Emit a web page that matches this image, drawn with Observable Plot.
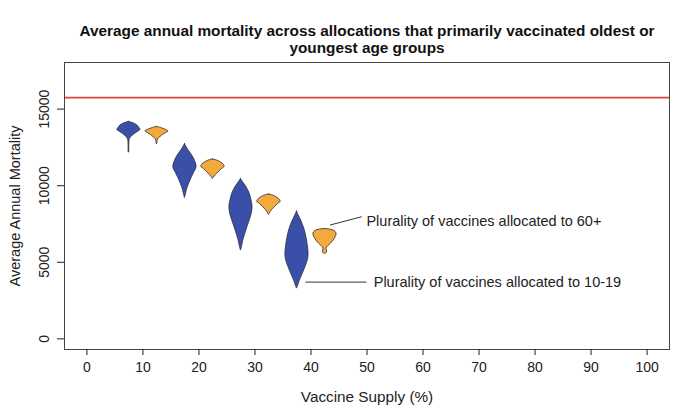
<!DOCTYPE html>
<html>
<head>
<meta charset="utf-8">
<script src="https://cdn.jsdelivr.net/npm/d3@7"></script>
<script src="https://cdn.jsdelivr.net/npm/@observablehq/plot@0.6"></script>
<style>
  body { margin: 0; background: #fff; }
  #chart { width: 700px; height: 417px; }
</style>
</head>
<body>
<div id="chart"></div>
<script>
// ---- Data ----
const titleText = "Average annual mortality across allocations that primarily vaccinated oldest or\nyoungest age groups";
const xLabel = "Vaccine Supply (%)";
const yLabel = "Average Annual Mortality";
const xTicks = [0, 10, 20, 30, 40, 50, 60, 70, 80, 90, 100];
const yTicks = [0, 5000, 10000, 15000];
const referenceMortality = [15750];

const groups = ["10-19", "60+"];
const violinSupply = [7.5, 12.5, 17.5, 22.5, 27.5, 32.5, 37.5, 42.5];
const violinGroup = ["10-19", "60+", "10-19", "60+", "10-19", "60+", "10-19", "60+"];
// mortality levels (top to bottom) and relative density (0-1) at each level
const violinMortality = [
  [14164, 14066, 13935, 13771, 13641, 13510, 13379, 13216, 13085, 12922, 12170],
  [13837, 13771, 13673, 13543, 13444, 13314, 13150, 13020, 12726],
  [12726, 12530, 12268, 11941, 11615, 11288, 11091, 10830, 10503, 10111, 9719, 9392, 9196],
  [11713, 11647, 11516, 11353, 11222, 11091, 10896, 10699, 10536, 10438],
  [10438, 10242, 9915, 9523, 9066, 8608, 8216, 7758, 7301, 6778, 6320, 5994, 5765],
  [9425, 9360, 9229, 9066, 8935, 8804, 8608, 8412, 8216, 8085],
  [8314, 8085, 7693, 7170, 6647, 6059, 5536, 5144, 4752, 4360, 3967, 3641, 3444, 3281],
  [7170, 7137, 7039, 6876, 6713, 6516, 6320, 6124, 5961, 5830, 5699, 5569, 5536]
];
const violinDensity = [
  [0, 0.43, 0.73, 0.9, 1, 0.77, 0.51, 0.26, 0.1, 0.05, 0.03],
  [0, 0.35, 0.7, 1, 0.8, 0.52, 0.26, 0.09, 0.03],
  [0, 0.13, 0.35, 0.65, 0.87, 1, 0.96, 0.78, 0.57, 0.35, 0.17, 0.07, 0],
  [0, 0.35, 0.7, 0.95, 1, 0.78, 0.52, 0.26, 0.09, 0],
  [0, 0.17, 0.47, 0.73, 0.9, 1, 0.94, 0.77, 0.56, 0.34, 0.17, 0.09, 0],
  [0, 0.35, 0.7, 0.95, 1, 0.78, 0.52, 0.26, 0.09, 0],
  [0, 0.13, 0.38, 0.64, 0.81, 0.94, 1, 0.94, 0.77, 0.56, 0.34, 0.17, 0.09, 0],
  [0, 0.44, 0.83, 1, 0.96, 0.83, 0.65, 0.39, 0.17, 0.13, 0.19, 0.09, 0]
];

const annotationText = ["Plurality of vaccines allocated to 60+", "Plurality of vaccines allocated to 10-19"];
const annotationFrom = [[43.4, 7431], [39.0, 3706]];   // [supply, mortality]
const annotationTo = [[49.06, 7974], [49.9, 3706]];
const annotationLabelAt = [[49.9, 7650], [51.2, 3706]];

// ---- Style ----
const violinHalfWidth = 2.07; // x units for density = 1
const colors = ["#3a4fa8", "#f3a93c"];

// ---- Build tables ----
const rows = [];
violinSupply.forEach((s, i) => {
  violinMortality[i].forEach((m, j) => {
    const d = violinDensity[i][j];
    rows.push({id: i, group: violinGroup[i], m, lo: s - d * violinHalfWidth, hi: s + d * violinHalfWidth});
  });
});
const annotations = annotationText.map((t, i) => ({
  label: t,
  x1: annotationFrom[i][0], y1: annotationFrom[i][1],
  x2: annotationTo[i][0], y2: annotationTo[i][1],
  tx: annotationLabelAt[i][0], ty: annotationLabelAt[i][1]
}));

const font = "'Liberation Sans', Arial, Helvetica, sans-serif";

const chart = Plot.plot({
  width: 700,
  height: 417,
  marginLeft: 64,
  marginRight: 31,
  marginTop: 62,
  marginBottom: 68,
  style: {fontFamily: font, fontSize: "14px", background: "white", color: "#222"},
  x: {domain: [-4, 104]},
  y: {domain: [-694, 18044]},
  color: {domain: groups, range: colors},
  marks: [
    Plot.ruleY(referenceMortality, {stroke: "#dc4437", strokeWidth: 1.6}),
    Plot.areaX(rows, {
      y: "m", x1: "lo", x2: "hi", z: "id", fill: "group",
      stroke: "#2c2c3c", strokeWidth: 0.8, curve: "catmull-rom"
    }),
    Plot.link(annotations, {x1: "x1", y1: "y1", x2: "x2", y2: "y2", stroke: "#333", strokeWidth: 1}),
    Plot.text(annotations, {x: "tx", y: "ty", text: "label", textAnchor: "start", fontSize: 14.5, fill: "#222"}),
    Plot.frame({stroke: "#444", strokeWidth: 1}),
    Plot.axisX({ticks: xTicks, tickSize: 6, tickPadding: 7, label: null, fontSize: 14, tickFormat: d => String(d)}),
    Plot.axisY({ticks: yTicks, tickSize: 7, tickPadding: 9, tickRotate: -90, label: null, fontSize: 14, tickFormat: d => String(d)}),
    Plot.text([xLabel], {frameAnchor: "bottom", lineAnchor: "middle", dy: 48, fontSize: 15.3, fill: "#222"}),
    Plot.text([yLabel], {frameAnchor: "left", textAnchor: "middle", lineAnchor: "middle", dx: -49, rotate: -90, fontSize: 14.5, fill: "#222"}),
    Plot.text([titleText], {
      frameAnchor: "top", lineAnchor: "middle", textAnchor: "middle", dy: -23, fontSize: 15.35, fontWeight: "bold", lineHeight: 1.1,
      fill: "#111"
    })
  ]
});
document.getElementById("chart").appendChild(chart);
</script>
</body>
</html>
